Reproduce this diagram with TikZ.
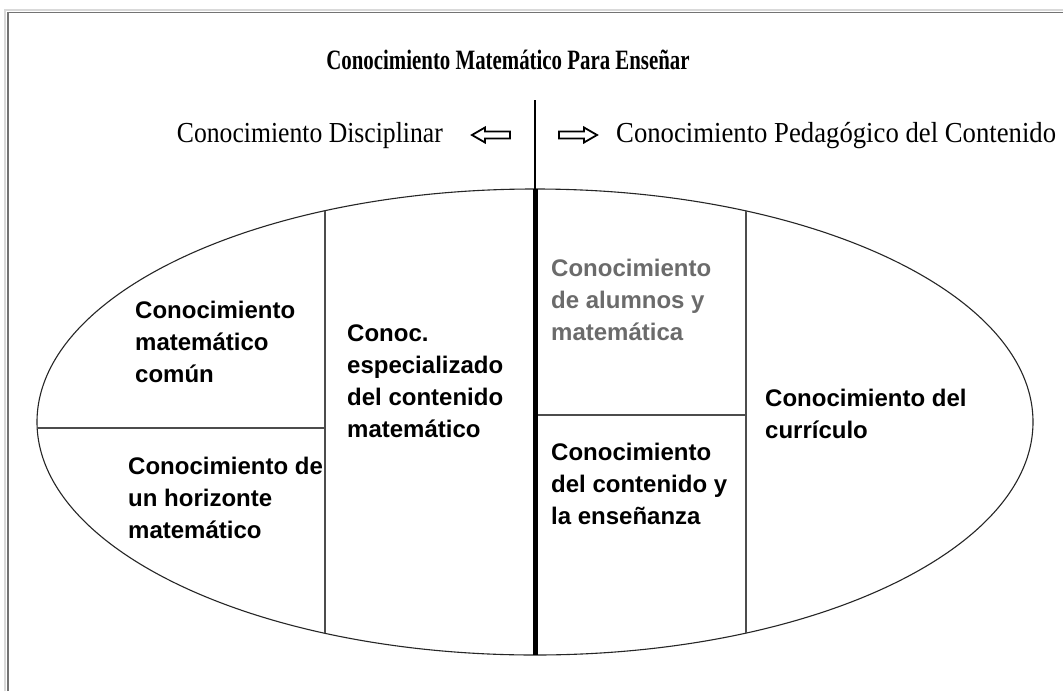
\documentclass[tikz,border=0pt]{standalone}
\usepackage{fontspec}
\setmainfont{Liberation Serif}
\setsansfont{Liberation Sans}
\definecolor{framegray}{gray}{0.45}
\definecolor{greytext}{gray}{0.42}
\definecolor{divgray}{gray}{0.3}
\begin{document}
\begin{tikzpicture}[x=1pt,y=-1pt,
  cell/.style={anchor=west, align=left, inner sep=0pt, font=\sffamily\bfseries\fontsize{24}{32}\selectfont},
  head/.style={inner sep=0pt, font=\fontsize{29}{32}\selectfont},
  divider/.style={draw=divgray, line width=1.2pt},
  hollowarrow/.style={draw=black, fill=white, line width=1.8pt, line join=miter}]
\useasboundingbox (0,0) rectangle (1063,691);
\fill[white] (0,0) rectangle (1063,691);
% frame
\draw[gray!30, line width=2pt] (5,691) -- (5,10) -- (1063,10);
\draw[framegray, line width=1.4pt] (8,691) -- (8,12.5) -- (1063,12.5);
% title and headers
\node[inner sep=0pt, font=\bfseries\fontsize{28}{30}\selectfont] (title) at (508,60) {\scalebox{0.745}[1]{Conocimiento Matemático Para Enseñar}};
\node[head, anchor=east] (disc) at (443,136) {\scalebox{0.885}[1]{Conocimiento Disciplinar}};
\node[head, anchor=west] (ped) at (616,136) {\scalebox{0.921}[1]{Conocimiento Pedagógico del Contenido}};
% hollow arrows
\draw[hollowarrow] (472,135) -- (485,127.5) -- (485,131.5) -- (510,131.5) -- (510,138.5) -- (485,138.5) -- (485,142.5) -- cycle;
\draw[hollowarrow] (597,135) -- (584,127.5) -- (584,131.5) -- (559,131.5) -- (559,138.5) -- (584,138.5) -- (584,142.5) -- cycle;
% coordinates
\coordinate (axtop) at (535,100);
\coordinate (eltop) at (535,189);
\coordinate (elbot) at (535,655);
\coordinate (l1t) at (325,210.7);
\coordinate (l1b) at (325,633.3);
\coordinate (r1t) at (746,210.9);
\coordinate (r1b) at (746,633.1);
\coordinate (hl1) at (37,428);
\coordinate (hl2) at (325,428);
\coordinate (hr1) at (535,415);
\coordinate (hr2) at (746,415);
% ellipse
\draw[black!85, line width=1.1pt] (535,422) ellipse [x radius=498, y radius=233];
% dividers
\draw[divider] (l1t) -- (l1b);
\draw[divider] (r1t) -- (r1b);
\draw[divider] (hl1) -- (hl2);
\draw[divider] (hr1) -- (hr2);
\draw[black, line width=1.8pt] (axtop) -- (eltop);
\draw[black, line width=5pt] (eltop) -- (elbot);
% cells
\node[cell] (comun) at (135,342) {Conocimiento\\matemático\\común};
\node[cell] (horiz) at (128,498) {Conocimiento de\\un horizonte\\matemático};
\node[cell] (espec) at (347,381) {Conoc.\\especializado\\del contenido\\matemático};
\node[cell, text=greytext] (alum) at (551,300) {Conocimiento\\de alumnos y\\matemática};
\node[cell] (ense) at (551,484) {Conocimiento\\del contenido y\\la enseñanza};
\node[cell] (curr) at (765,414) {Conocimiento del\\currículo};
\end{tikzpicture}
\end{document}
